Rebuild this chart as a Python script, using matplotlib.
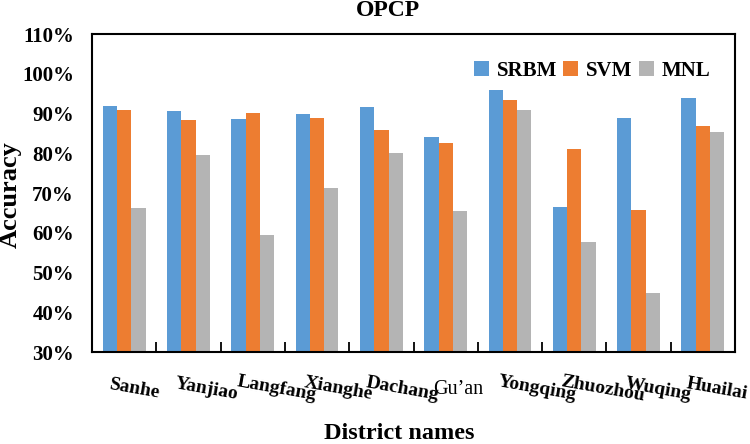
import numpy as np
import matplotlib.pyplot as plt
from matplotlib import transforms

districts = ["Sanhe", "Yanjiao", "Langfang", "Xianghe", "Dachang",
             "Gu'an", "Yongqing", "Zhuozhou", "Wuqing", "Huailai"]
srbm = [91.9, 90.7, 88.6, 90.0, 91.7, 84.2, 95.8, 66.4, 88.8, 94.0]
svm = [90.9, 88.4, 90.2, 88.9, 85.8, 82.7, 93.3, 81.0, 65.7, 86.9]
mnl = [66.2, 79.5, 59.4, 71.3, 80.1, 65.5, 91.0, 57.7, 44.8, 85.3]
yticks = [30, 40, 50, 60, 70, 80, 90, 100, 110]
ytick_labels = ["30%", "40%", "50%", "60%", "70%", "80%", "90%", "100%", "110%"]

# label shifts in pixels (hand placed in the original)
label_dx = [11, 18, 24, 21, 21, 13, 27, 28, 20, 14]

plt.rcParams['font.family'] = ['Liberation Serif', 'DejaVu Serif']

fig = plt.figure(figsize=(7.5, 4.44), dpi=100)
ax = fig.add_axes([0.1227, 0.2072, 0.8573, 0.7162])

x = np.arange(len(districts))
w = 0.222
ax.bar(x - w, srbm, w, color="#5B9BD5", label="SRBM")
ax.bar(x, svm, w, color="#ED7D31", label="SVM")
ax.bar(x + w, mnl, w, color="#B4B4B4", label="MNL")

ax.set_xlim(-0.5, len(districts) - 0.5)
ax.set_ylim(30, 110)
ax.set_yticks(yticks)
ax.set_yticklabels(ytick_labels, fontsize=15, fontweight="bold")
ax.tick_params(axis="y", length=0, pad=13)
ax.set_xticks(np.arange(len(districts) + 1) - 0.5)
ax.set_xticklabels([])
ax.tick_params(axis="x", direction="in", length=7, width=1.3)

for s in ax.spines.values():
    s.set_linewidth(1.5)

for i, name in enumerate(districts):
    tr = transforms.blended_transform_factory(ax.transData, ax.transAxes)
    tr = tr + transforms.ScaledTranslation(label_dx[i] / 100, -37 / 100, fig.dpi_scale_trans)
    if name == "Gu'an":
        ax.text(i, 0, "Gu\u2019an", transform=tr, ha="center", va="center",
                fontsize=14.5)
    else:
        ax.text(i, 0, name, transform=tr, ha="center", va="center",
                fontsize=14, fontweight="bold", rotation=-10,
                rotation_mode="anchor")

fig.text(388 / 750, 1 - 10 / 444, "OPCP", ha="center", va="center",
         fontsize=17, fontweight="bold")
fig.text(10 / 750, 1 - 195 / 444, "Accuracy", ha="center", va="center",
         rotation=90, fontsize=19, fontweight="bold")
fig.text(399 / 750, 1 - 439 / 444, "District names", ha="center", va="baseline",
         fontsize=17.5, fontweight="bold")

ax.legend(loc="center right", bbox_to_anchor=(0.962, 0.885), ncol=3, frameon=False,
          prop={"weight": "bold", "size": 15}, handlelength=0.72, handleheight=0.72,
          handletextpad=0.38, columnspacing=0.3, borderaxespad=0, borderpad=0)

plt.savefig("out.png", dpi=100)
